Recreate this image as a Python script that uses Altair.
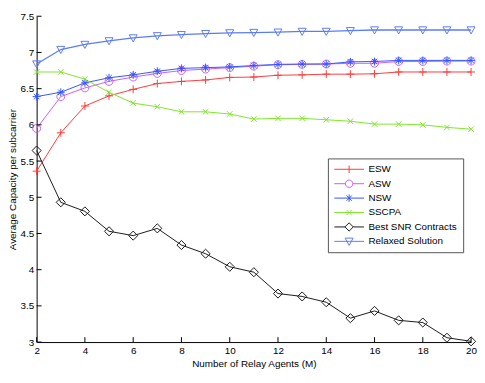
import altair as alt
import pandas as pd

relay_agents = list(range(2, 21))
series_names = ["ESW", "ASW", "NSW", "SSCPA", "Best SNR Contracts", "Relaxed Solution"]
esw = [5.36, 5.89, 6.26, 6.40, 6.49, 6.57, 6.60, 6.62, 6.655, 6.66, 6.685, 6.69, 6.70, 6.70, 6.705, 6.73, 6.73, 6.73, 6.73]
asw = [5.95, 6.39, 6.51, 6.60, 6.66, 6.71, 6.75, 6.77, 6.79, 6.81, 6.83, 6.835, 6.84, 6.85, 6.85, 6.875, 6.875, 6.88, 6.88]
nsw = [6.39, 6.45, 6.58, 6.65, 6.69, 6.74, 6.78, 6.79, 6.80, 6.82, 6.835, 6.84, 6.84, 6.87, 6.875, 6.89, 6.89, 6.89, 6.89]
sscpa = [6.73, 6.73, 6.63, 6.45, 6.30, 6.25, 6.18, 6.18, 6.15, 6.08, 6.09, 6.09, 6.07, 6.05, 6.01, 6.01, 6.00, 5.965, 5.94]
best_snr = [5.645, 4.93, 4.805, 4.53, 4.47, 4.57, 4.34, 4.22, 4.04, 3.965, 3.67, 3.63, 3.55, 3.33, 3.43, 3.30, 3.27, 3.06, 3.01]
relaxed = [6.84, 7.04, 7.11, 7.16, 7.20, 7.23, 7.245, 7.26, 7.27, 7.275, 7.28, 7.29, 7.29, 7.30, 7.31, 7.31, 7.31, 7.31, 7.31]
x_ticks = list(range(2, 21, 2))
y_ticks = [3, 3.5, 4, 4.5, 5, 5.5, 6, 6.5, 7, 7.5]

colors = ["#ff3b3b", "#c760f7", "#3355ff", "#7fe62a", "#1a1a1a", "#5c7cf5"]

marker_paths = [
    "M-1,0H1M0,-1V1",
    "M1,0A1,1,0,1,1,-1,0A1,1,0,1,1,1,0Z",
    "M-1,0H1M0,-1V1M-0.7,-0.7L0.7,0.7M-0.7,0.7L0.7,-0.7",
    "M-0.7,-0.7L0.7,0.7M-0.7,0.7L0.7,-0.7",
    "M0,-1.15L1.15,0L0,1.15L-1.15,0Z",
    "M-1,-0.8L1,-0.8L0,1Z",
]
legend_paths = [
    "M-1,0H1M0,-0.25V0.25",
    "M-1,0H-0.25M0.25,0H1M0.25,0A0.25,0.25,0,1,1,-0.25,0A0.25,0.25,0,1,1,0.25,0Z",
    "M-1,0H1M0,-0.25V0.25M-0.18,-0.18L0.18,0.18M-0.18,0.18L0.18,-0.18",
    "M-1,0H1M-0.17,-0.17L0.17,0.17M-0.17,0.17L0.17,-0.17",
    "M-1,0H-0.28M0.28,0H1M0,-0.28L0.28,0L0,0.28L-0.28,0Z",
    "M-1,0H1M-0.27,-0.22L0.27,-0.22L0,0.27Z",
]

rows = []
for name, vals in zip(series_names, [esw, asw, nsw, sscpa, best_snr, relaxed]):
    for m, v in zip(relay_agents, vals):
        rows.append({"M": m, "value": v, "series": name})
df = pd.DataFrame(rows)
xt_df = pd.DataFrame({"M": x_ticks})
yt_df = pd.DataFrame({"value": y_ticks})

FONT = "Liberation Sans"
LEFT = 29
W, H = 477 - 8 - LEFT, 330

x_axis = alt.Axis(
    values=x_ticks, title="Number of Relay Agents (M)", grid=False,
    ticks=False, labelPadding=4, domainColor="black",
    labelColor="black", titleColor="black", labelFont=FONT, titleFont=FONT,
    labelFontSize=10, titleFontSize=10, titleFontWeight="normal", titlePadding=3,
    labelFlush=False,
)
y_axis = alt.Axis(
    values=y_ticks, format="~g", title="Average Capacity per subcarrier", grid=False,
    ticks=False, labelPadding=3, domainColor="black",
    labelColor="black", titleColor="black", labelFont=FONT, titleFont=FONT,
    labelFontSize=10, titleFontSize=10, titleFontWeight="normal", titlePadding=2,
    labelFlush=False,
)

x_scale = alt.Scale(domain=[2, 20], nice=False, zero=False)
y_scale = alt.Scale(domain=[3, 7.5], nice=False, zero=False)
x_enc = alt.X("M:Q", scale=x_scale, axis=x_axis)
y_enc = alt.Y("value:Q", scale=y_scale, axis=y_axis)
color_scale = alt.Scale(domain=series_names, range=colors)

legend = alt.Legend(
    title=None, orient="none", legendX=332 - 8 - LEFT, legendY=144,
    symbolSize=900, symbolOpacity=1, symbolStrokeWidth=1, clipHeight=10,
    labelFont=FONT, labelFontSize=10, labelColor="black",
    labelOffset=4, rowPadding=4.6, padding=6, strokeColor="#555555",
    fillColor="white",
)
color_enc = alt.Color("series:N", scale=color_scale, legend=legend)

lines = alt.Chart(df).mark_line().encode(
    x=x_enc, y=y_enc, color=color_enc,
    strokeWidth=alt.condition(alt.datum.series == "Relaxed Solution", alt.value(1.3), alt.value(1)),
)

point_layers = []
for name, path in zip(series_names, marker_paths):
    point_layers.append(
        alt.Chart(df).transform_filter(alt.datum.series == name)
        .mark_point(shape=path, filled=False, strokeWidth=1, size=64, opacity=1)
        .encode(x=x_enc, y=y_enc, color=color_enc)
    )

carrier = alt.Chart(df).mark_point(filled=False, strokeWidth=1, size=900, opacity=0).encode(
    x=x_enc, y=y_enc, color=color_enc,
    shape=alt.Shape("series:N", scale=alt.Scale(domain=series_names, range=legend_paths), legend=legend),
)

x_tick_marks = alt.Chart(xt_df).mark_rule(color="black", strokeWidth=1).encode(
    x=x_enc, y=alt.value(H), y2=alt.value(H - 5),
)
y_tick_marks = alt.Chart(yt_df).mark_rule(color="black", strokeWidth=1).encode(
    y=y_enc, x=alt.value(0), x2=alt.value(5),
)

chart = alt.layer(lines, *point_layers, carrier, x_tick_marks, y_tick_marks).properties(
    width=W, height=H,
    padding={"left": LEFT, "top": 6, "right": 6, "bottom": 30},
    autosize=alt.AutoSizeParams(type="none"),
    background="white",
).configure_view(stroke=None)

chart.save("out.html", embed_options={"renderer": "svg", "actions": False})
